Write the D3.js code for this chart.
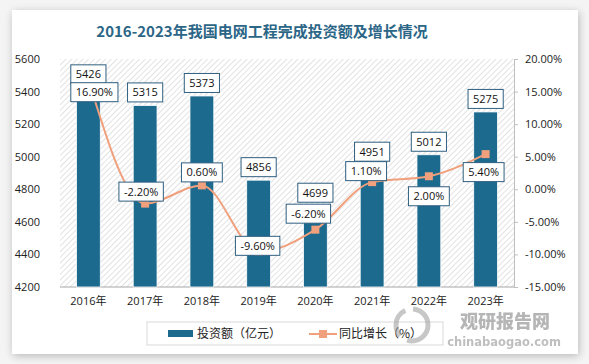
<!DOCTYPE html>
<html><head><meta charset="utf-8">
<script src="https://cdn.jsdelivr.net/npm/d3@7"></script>
<style>
html,body{margin:0;padding:0;background:#f2f2f2;}
svg{display:block;}
</style></head>
<body>
<svg id="c" width="589" height="364"></svg>
<script>
const years = ["2016年","2017年","2018年","2019年","2020年","2021年","2022年","2023年"];
const investment = [5426, 5315, 5373, 4856, 4699, 4951, 5012, 5275];
const growth = [16.9, -2.2, 0.6, -9.6, -6.2, 1.1, 2.0, 5.4];
const leftTicks = [4200, 4400, 4600, 4800, 5000, 5200, 5400, 5600];
const rightTicks = [-15, -10, -5, 0, 5, 10, 15, 20];
// label placement (layout only)
const growthLabelDx = [6, -4, 0, -1, -7, -6, 0, -2];
const growthLabelDy = [13, -12, -13, -6, -16, -11, 20, 18];

const svg = d3.select("#c");
const W = 589, H = 364;
const defs = svg.append("defs");
const f = defs.append("filter").attr("id","sh").attr("x","-5%").attr("y","-5%").attr("width","110%").attr("height","110%");
f.append("feGaussianBlur").attr("in","SourceAlpha").attr("stdDeviation",4);
f.append("feOffset").attr("dx",1).attr("dy",2).attr("result","b");
f.append("feComponentTransfer").append("feFuncA").attr("type","linear").attr("slope",0.25);
const m = f.append("feMerge"); m.append("feMergeNode"); m.append("feMergeNode").attr("in","SourceGraphic");

svg.append("rect").attr("width",W).attr("height",H).attr("fill","#f4f4f4");
svg.append("rect").attr("x",12).attr("y",10).attr("width",566).attr("height",344).attr("fill","#fff").attr("filter","url(#sh)");

const pat = defs.append("pattern").attr("id","hatch").attr("patternUnits","userSpaceOnUse")
  .attr("width",4).attr("height",4).attr("patternTransform","rotate(45)");
pat.append("rect").attr("width",4).attr("height",4).attr("fill","#fff");
pat.append("line").attr("x1",0).attr("y1",0).attr("x2",0).attr("y2",4).attr("stroke","#cfcfcf").attr("stroke-width",1.2);

const x0 = 60, x1 = 514, yTop = 59, yBot = 287;
const x = d3.scaleBand().domain(years).range([x0, x1]).paddingInner(0.58).paddingOuter(0.29);
const yL = d3.scaleLinear().domain([4200, 5600]).range([yBot, yTop]);
const yR = d3.scaleLinear().domain([-15, 20]).range([yBot, yTop]);

svg.append("rect").attr("x",x0).attr("y",yTop).attr("width",x1-x0).attr("height",yBot-yTop).attr("fill","url(#hatch)");

// title
svg.append("text").attr("x",262).attr("y",37).attr("text-anchor","middle")
  .attr("font-family","'Noto Sans CJK SC', sans-serif").attr("font-weight","bold").attr("font-size",15)
  .attr("fill","#2c6687").text("2016-2023年我国电网工程完成投资额及增长情况");

const fontF = "'Open Sans','Noto Sans CJK SC',sans-serif";
// left axis
const gL = svg.append("g").attr("transform",`translate(${x0},0)`)
  .call(d3.axisLeft(yL).tickValues(leftTicks).tickSize(0).tickPadding(20).tickFormat(d3.format("d")));
gL.select(".domain").remove();
gL.selectAll("text").attr("font-family",fontF).attr("font-size",11).attr("fill","#222");
// right axis
const gR = svg.append("g").attr("transform",`translate(${x1},0)`)
  .call(d3.axisRight(yR).tickValues(rightTicks).tickSize(4).tickPadding(7).tickFormat(d=>d.toFixed(2)+"%"));
gR.select(".domain").attr("stroke","#bfbfbf");
gR.selectAll("line").attr("stroke","#bfbfbf");
gR.selectAll("text").attr("font-family",fontF).attr("font-size",11).attr("fill","#222");
// bottom axis
const gB = svg.append("g").attr("transform",`translate(0,${yBot})`)
  .call(d3.axisBottom(x).tickSize(0).tickPadding(10));
gB.select(".domain").attr("stroke","#a6a6a6").attr("d",`M${x0},0H${x1}`);
gB.selectAll("text").attr("font-family",fontF).attr("font-size",11).attr("fill","#222");

// bars
svg.append("g").selectAll("rect").data(investment).join("rect")
  .attr("x",(d,i)=>x(years[i])).attr("width",x.bandwidth())
  .attr("y",d=>yL(d)).attr("height",d=>yBot-yL(d))
  .attr("fill","#1d6a8f").attr("stroke","#fff").attr("stroke-width",0.8);

// line
const cx = i => x(years[i]) + x.bandwidth()/2;
const line = d3.line().x((d,i)=>cx(i)).y(d=>yR(d)).curve(d3.curveMonotoneX);
svg.append("path").datum(growth).attr("d",line).attr("fill","none").attr("stroke","#f0a07c").attr("stroke-width",2);
svg.append("g").selectAll("rect").data(growth).join("rect")
  .attr("x",(d,i)=>cx(i)-4).attr("y",d=>yR(d)-4).attr("width",8).attr("height",8).attr("fill","#f0a07c");

function labelBox(g, cxp, cyp, txt){
  const t = g.append("text").attr("x",cxp).attr("y",cyp+4).attr("text-anchor","middle")
    .attr("font-family",fontF).attr("font-size",11).attr("fill","#111").text(txt);
  const w = t.node().getComputedTextLength();
  g.insert("rect","text").attr("x",cxp-w/2-5).attr("y",cyp-9.5).attr("width",w+10).attr("height",19)
    .attr("fill","#fff").attr("stroke","#2f5f80").attr("stroke-width",1);
}
// bar labels
investment.forEach((d,i)=>{ const g=svg.append("g"); labelBox(g, cx(i), yL(d)-13, String(d)); });
// growth labels
growth.forEach((d,i)=>{ const g=svg.append("g"); labelBox(g, cx(i)+growthLabelDx[i], yR(d)+growthLabelDy[i], d.toFixed(2)+"%"); });

// legend
const lg = svg.append("g");
lg.append("rect").attr("x",147).attr("y",322).attr("width",296).attr("height",23).attr("fill","#fff").attr("stroke","#d9d9d9");
lg.append("rect").attr("x",168).attr("y",330).attr("width",25).attr("height",7).attr("fill","#1d6a8f");
lg.append("text").attr("x",197).attr("y",338).attr("font-family","'Noto Sans CJK SC',sans-serif").attr("font-size",12).attr("fill","#222").text("投资额（亿元）");
lg.append("line").attr("x1",309).attr("x2",337).attr("y1",334).attr("y2",334).attr("stroke","#f0a07c").attr("stroke-width",2);
lg.append("rect").attr("x",319).attr("y",330).attr("width",8).attr("height",8).attr("fill","#f0a07c");
lg.append("text").attr("x",339).attr("y",338).attr("font-family","'Noto Sans CJK SC',sans-serif").attr("font-size",12).attr("fill","#222").text("同比增长（%）");

// watermark
const wm = svg.append("g").attr("opacity",0.55);
wm.append("circle").attr("cx",412).attr("cy",325).attr("r",16).attr("fill","none").attr("stroke","#9a9a9a").attr("stroke-width",5).attr("stroke-dasharray","30 8");
wm.append("text").attr("x",505).attr("y",328).attr("text-anchor","middle").attr("font-family","'Noto Sans CJK SC',sans-serif").attr("font-weight","900").attr("font-size",18).attr("fill","#7a7a7a").text("观研报告网");
wm.append("text").attr("x",504).attr("y",346).attr("text-anchor","middle").attr("font-family","'DejaVu Sans',sans-serif").attr("font-weight","bold").attr("font-size",11.5).attr("fill","#8a8a8a").text("chinabaogao.com");
</script>
</body></html>
